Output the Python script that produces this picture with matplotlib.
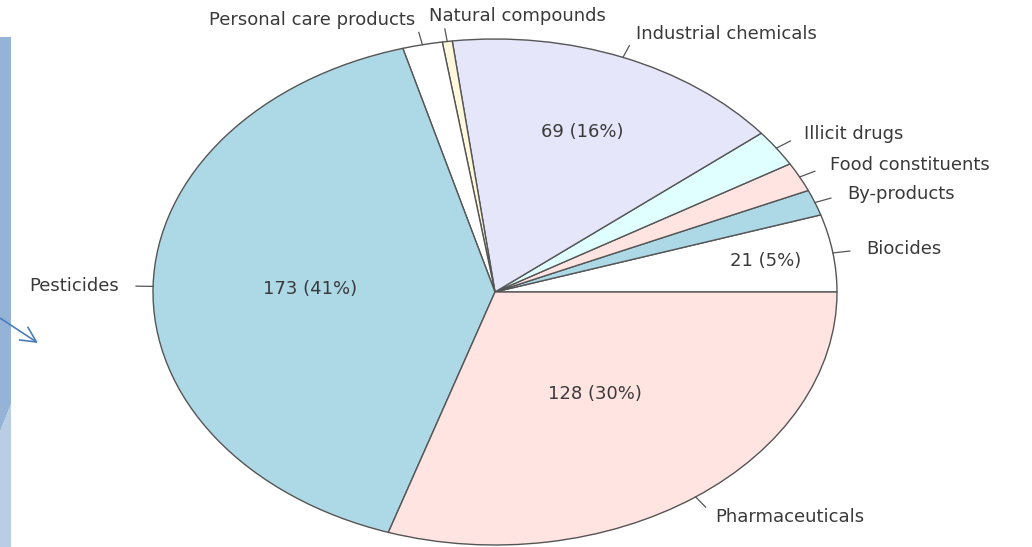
import numpy as np
import matplotlib
matplotlib.use("Agg")
import matplotlib.pyplot as plt
from matplotlib.patches import Polygon

# counts per source category (R pie order, counter-clockwise from 3 o'clock)
categories = ["Biocides", "By-products", "Food constituents", "Illicit drugs",
              "Industrial chemicals", "Natural compounds", "Personal care products",
              "Pesticides", "Pharmaceuticals"]
counts = [21, 7, 8, 10, 69, 2, 8, 173, 128]
# R default pie palette, recycled
palette = ["white", "lightblue", "mistyrose", "lightcyan", "lavender", "cornsilk"]
# which slices carry an inner "n (p%)" label, and how far out from the centre
inner = {"Biocides": 0.80, "Industrial chemicals": 0.68,
         "Pesticides": 0.54, "Pharmaceuticals": 0.50}

W, H = 1032, 547
fig = plt.figure(figsize=(W / 100, H / 100), dpi=100)

# slide decoration on the left edge (pixel coords, y down)
ax0 = fig.add_axes([0, 0, 1, 1])
ax0.set_xlim(0, W)
ax0.set_ylim(H, 0)
ax0.axis("off")
ax0.add_patch(Polygon([[0, 37], [11, 37], [11, 404], [0, 432]], closed=True,
                      fc="#95b3d7", ec="none"))
ax0.add_patch(Polygon([[0, 432], [11, 404], [11, H], [0, H]], closed=True,
                      fc="#b9cde5", ec="none"))
ax0.annotate("", xy=(38, 343), xytext=(0, 318),
             arrowprops=dict(arrowstyle="->,head_length=1.1,head_width=0.55",
                             color="#4a7ebb", lw=1.2, shrinkA=0, shrinkB=0))

# pie axes, stretched like the original slide (ellipse)
cx, cy, rx, ry = 495, 292, 342, 253
ax = fig.add_axes([(cx - rx) / W, (H - cy - ry) / H, 2 * rx / W, 2 * ry / H])
cols = [palette[i % len(palette)] for i in range(len(counts))]
wedges, _ = ax.pie(counts, colors=cols, startangle=0, counterclock=True,
                   wedgeprops=dict(edgecolor="#555555", linewidth=1.0))
ax.set_aspect("auto")
ax.set_xlim(-1, 1)
ax.set_ylim(-1, 1)
ax.axis("off")

total = sum(counts)
txtc = "#3a3a3a"
for w, name, n in zip(wedges, categories, counts):
    t = np.deg2rad((w.theta1 + w.theta2) / 2)
    c, s = np.cos(t), np.sin(t)
    ax.plot([c, 1.05 * c], [s, 1.05 * s], color="#555555", lw=0.9, clip_on=False)
    ha = "left" if c > 0 else "right"
    x = 1.1 * c
    if name == "Natural compounds":
        # label was nudged to the right of its tick in the original
        ha, x = "left", 1.1 * c - 0.04
    ax.text(x, 1.1 * s, name, ha=ha, va="center",
            fontsize=13, color=txtc, clip_on=False)
    if name in inner:
        r = inner[name]
        ax.text(r * c, r * s, "%d (%d%%)" % (n, round(100 * n / total)),
                ha="center", va="center", fontsize=13, color=txtc)

fig.savefig("out.png", dpi=100)
